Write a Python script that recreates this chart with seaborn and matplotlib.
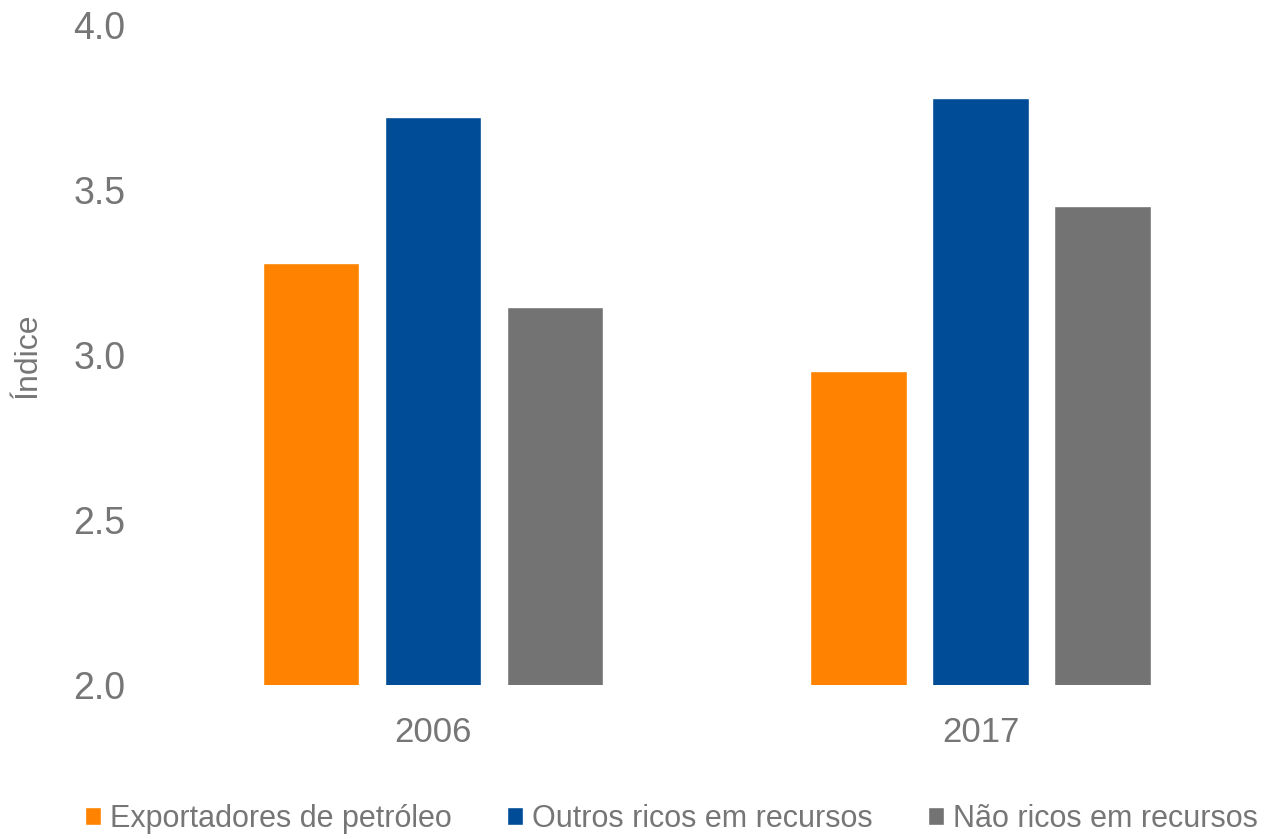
import matplotlib
matplotlib.use("Agg")
import matplotlib.pyplot as plt
import pandas as pd
import seaborn as sns

years = ["2006", "2017"]
groups = ["Exportadores de petróleo", "Outros ricos em recursos", "Não ricos em recursos"]
exportadores = [3.28, 2.95]
outros = [3.72, 3.78]
nao_ricos = [3.145, 3.45]

colors = ["#FF8200", "#004C97", "#727372"]
text_color = "#767676"

df = pd.DataFrame({
    "ano": years * 3,
    "grupo": [g for g in groups for _ in years],
    "valor": exportadores + outros + nao_ricos,
})

sns.set_style("white")
plt.rcParams["font.family"] = ["Liberation Sans Narrow", "Liberation Sans", "DejaVu Sans"]

fig = plt.figure(figsize=(12.71, 8.39), dpi=100)
ax = fig.add_axes([0.125, 0.1836, 0.862, 0.7866])

sns.barplot(data=df, x="ano", y="valor", hue="grupo", hue_order=groups,
            palette=colors, width=0.668, gap=0.21, saturation=1, ax=ax)

ax.set_ylim(2.0, 4.0)
ax.set_xlim(-0.5, 1.5)
ax.set_yticks([2.0, 2.5, 3.0, 3.5, 4.0])
ax.set_yticklabels(["2.0", "2.5", "3.0", "3.5", "4.0"])
ax.tick_params(axis="y", labelsize=27, colors=text_color, length=0, pad=24)
ax.tick_params(axis="x", labelsize=25, colors=text_color, length=0, pad=22)
ax.set_xlabel("")
ax.set_ylabel("Índice", fontsize=23, color=text_color, labelpad=22)
sns.despine(ax=ax, left=True, bottom=True)

ax.legend(loc="center", bbox_to_anchor=(0.468, -0.203), ncol=3, frameon=False,
          fontsize=22, labelcolor=text_color, handlelength=0.52, handleheight=0.52,
          handletextpad=0.3, columnspacing=1.8)

fig.savefig("out.png", dpi=100)
